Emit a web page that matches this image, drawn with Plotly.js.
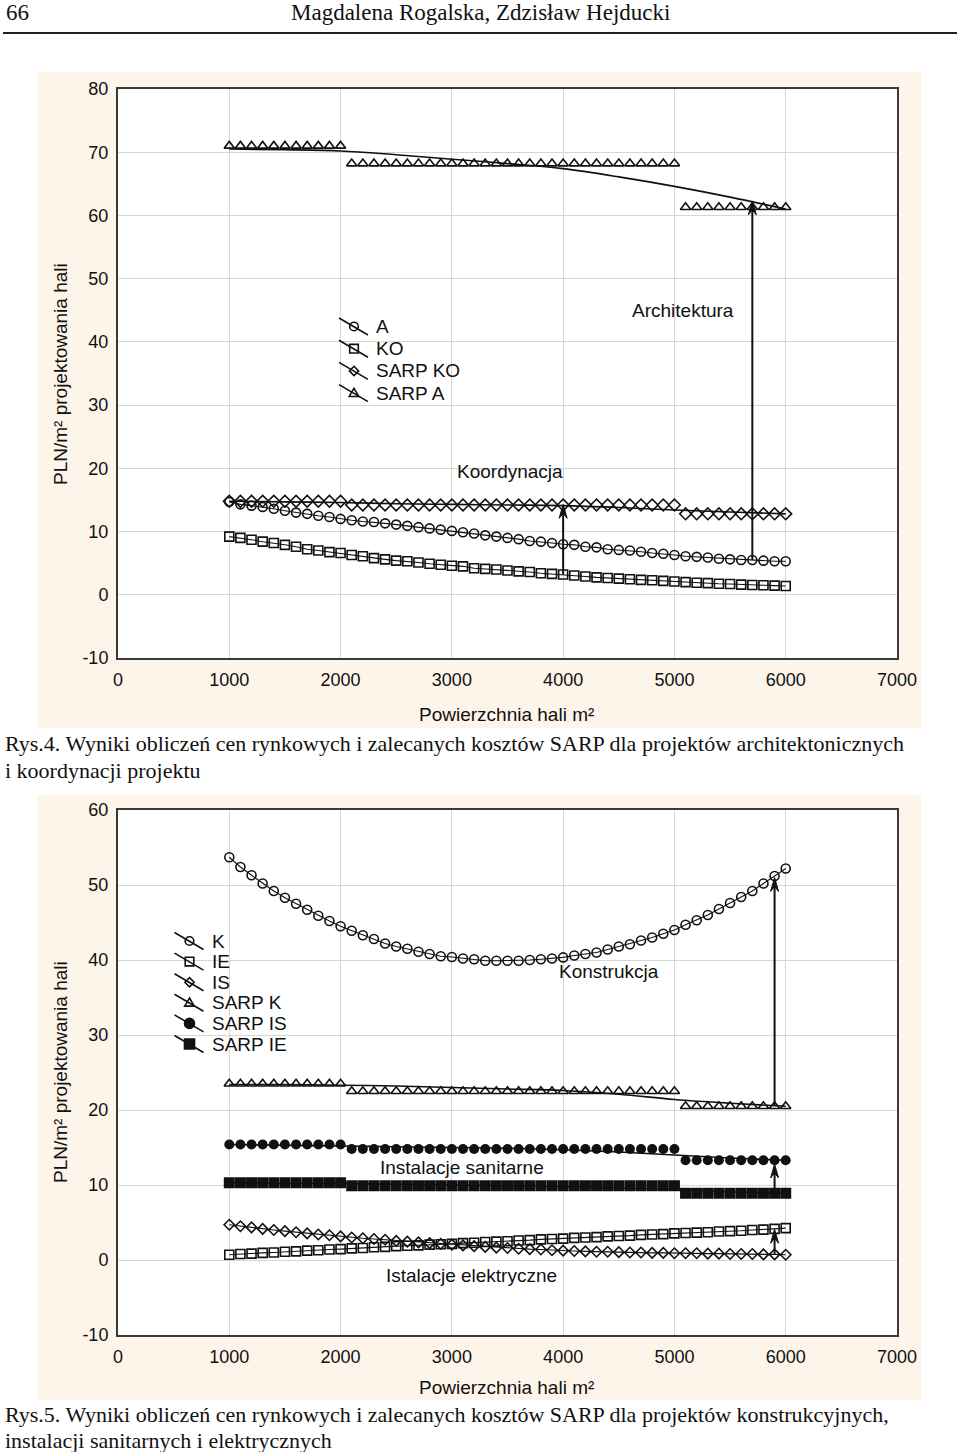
<!DOCTYPE html>
<html>
<head>
<meta charset="utf-8">
<script src="https://cdn.plot.ly/plotly-3.0.1.min.js"></script>
<style>html,body{margin:0;padding:0;background:#fff;}#chart{width:960px;height:1452px;}</style>
</head>
<body>
<div id="chart"></div>
<script>
// ---------- DATA ----------
const xVals = [1000,1100,1200,1300,1400,1500,1600,1700,1800,1900,2000,2100,2200,2300,2400,2500,2600,2700,2800,2900,3000,3100,3200,3300,3400,3500,3600,3700,3800,3900,4000,4100,4200,4300,4400,4500,4600,4700,4800,4900,5000,5100,5200,5300,5400,5500,5600,5700,5800,5900,6000];
const fitX = [1000,1500,2000,2500,3000,3500,4000,4500,5000,5500,6000];

// Rys.4
const topA = [14.7,14.3,14.1,13.9,13.6,13.3,13.0,12.8,12.5,12.3, 12.0,11.8,11.6,11.5,11.3,11.1,10.9,10.7,10.5,10.3, 10.1,9.9,9.7,9.4,9.2,9.0,8.8,8.5,8.4,8.2, 8.0,7.9,7.6,7.5,7.2,7.1,7.0,6.8,6.6,6.5, 6.3,6.1,6.0,5.9,5.7,5.6,5.5,5.5,5.4,5.3, 5.3];
const topKO = [9.2,9.0,8.7,8.4,8.2,7.9,7.6,7.2,7.0,6.75, 6.6,6.3,6.1,5.8,5.6,5.4,5.3,5.1,4.9,4.75, 4.6,4.5,4.2,4.1,4.0,3.85,3.7,3.6,3.4,3.3, 3.2,3.05,2.9,2.75,2.65,2.55,2.45,2.35,2.3,2.2, 2.1,2.0,1.9,1.85,1.75,1.7,1.6,1.55,1.5,1.45, 1.4];
const topSarpKO = [14.8,14.8,14.8,14.8,14.8,14.8,14.8,14.8,14.8,14.8,14.8,
  14.2,14.2,14.2,14.2,14.2,14.2,14.2,14.2,14.2,14.2,14.2,14.2,14.2,14.2,14.2,14.2,14.2,14.2,14.2,14.2,14.2,14.2,14.2,14.2,14.2,14.2,14.2,14.2,14.2,14.2,
  12.8,12.8,12.8,12.8,12.8,12.8,12.8,12.8,12.8,12.8];
const topSarpA = [71.0,71.0,71.0,71.0,71.0,71.0,71.0,71.0,71.0,71.0,71.0,
  68.2,68.2,68.2,68.2,68.2,68.2,68.2,68.2,68.2,68.2,68.2,68.2,68.2,68.2,68.2,68.2,68.2,68.2,68.2,68.2,68.2,68.2,68.2,68.2,68.2,68.2,68.2,68.2,68.2,68.2,
  61.3,61.3,61.3,61.3,61.3,61.3,61.3,61.3,61.3,61.3];
const topSarpAFit = [70.5,70.4,70.2,69.6,68.9,68.2,67.4,66.1,64.6,62.9,61.0];
const topSarpKOFit = [14.8,14.7,14.6,14.4,14.3,14.2,14.1,13.8,13.4,13.1,12.8];

// Rys.5
const botK = [53.7,52.4,51.3,50.2,49.2,48.3,47.5,46.7,45.9,45.2, 44.5,43.9,43.3,42.8,42.2,41.8,41.5,41.1,40.8,40.5, 40.4,40.2,40.1,39.9,39.9,39.9,39.9,40.0,40.1,40.2, 40.35,40.6,40.8,41.0,41.4,41.8,42.1,42.6,43.0,43.5, 44.0,44.7,45.3,46.0,46.8,47.6,48.4,49.2,50.2,51.2, 52.2];
const botIE = [0.7,0.8,0.85,0.95,1.0,1.1,1.15,1.25,1.3,1.4, 1.45,1.55,1.6,1.7,1.75,1.85,1.9,1.95,2.05,2.1, 2.15,2.25,2.3,2.4,2.45,2.5,2.6,2.65,2.75,2.8, 2.85,2.95,3.0,3.05,3.15,3.2,3.25,3.35,3.4,3.45, 3.55,3.6,3.65,3.7,3.8,3.85,3.9,4.0,4.05,4.15, 4.25];
const botIS = [4.7,4.5,4.35,4.15,4.0,3.85,3.7,3.55,3.4,3.3, 3.15,3.0,2.9,2.8,2.7,2.55,2.45,2.35,2.25,2.15, 2.05,1.95,1.85,1.75,1.65,1.6,1.5,1.45,1.4,1.3, 1.25,1.2,1.15,1.1,1.1,1.05,1.0,1.0,0.95,0.95, 0.9,0.9,0.9,0.85,0.85,0.8,0.8,0.8,0.75,0.75, 0.7];
const botSarpK = [23.5,23.5,23.5,23.5,23.5,23.5,23.5,23.5,23.5,23.5,23.5,
  22.5,22.5,22.5,22.5,22.5,22.5,22.5,22.5,22.5,22.5,22.5,22.5,22.5,22.5,22.5,22.5,22.5,22.5,22.5,22.5,22.5,22.5,22.5,22.5,22.5,22.5,22.5,22.5,22.5,22.5,
  20.5,20.5,20.5,20.5,20.5,20.5,20.5,20.5,20.5,20.5];
const botSarpIS = [15.4,15.4,15.4,15.4,15.4,15.4,15.4,15.4,15.4,15.4,15.4,
  14.8,14.8,14.8,14.8,14.8,14.8,14.8,14.8,14.8,14.8,14.8,14.8,14.8,14.8,14.8,14.8,14.8,14.8,14.8,14.8,14.8,14.8,14.8,14.8,14.8,14.8,14.8,14.8,14.8,14.8,
  13.3,13.3,13.3,13.3,13.3,13.3,13.3,13.3,13.3,13.3];
const botSarpIE = [10.3,10.3,10.3,10.3,10.3,10.3,10.3,10.3,10.3,10.3,10.3,
  9.9,9.9,9.9,9.9,9.9,9.9,9.9,9.9,9.9,9.9,9.9,9.9,9.9,9.9,9.9,9.9,9.9,9.9,9.9,9.9,9.9,9.9,9.9,9.9,9.9,9.9,9.9,9.9,9.9,9.9,
  8.9,8.9,8.9,8.9,8.9,8.9,8.9,8.9,8.9,8.9];
const botSarpKFit = [23.4,23.4,23.3,23.2,23.0,22.8,22.6,22.1,21.4,20.9,20.5];
const botSarpISFit = [15.4,15.3,15.2,15.1,15.0,14.9,14.7,14.4,14.0,13.6,13.3];
const botSarpIEFit = [10.3,10.2,10.2,10.1,10.0,9.9,9.8,9.6,9.4,9.1,8.9];

// arrows: [x, from, to]
const arrowsTop = [[5700, 5.5, 62.3], [4000, 3.2, 14.3]];
const arrowsBot = [[5900, 20.6, 51.0], [5900, 8.9, 12.8], [5900, 0.75, 4.1]];

// labels
const labelsTop = [["Architektura", 5080, 44.9], ["Koordynacja", 3520, 19.5]];
const labelsBot = [["Konstrukcja", 4410, 38.5], ["Instalacje sanitarne", 3090, 12.3], ["Istalacje elektryczne", 3180, -2.0]];

// legends
const legendTopNames = ["A", "KO", "SARP KO", "SARP A"];
const legendTopSymbols = ["circle-open", "square-open", "diamond-open", "triangle-open"];
const legendBotNames = ["K", "IE", "IS", "SARP K", "SARP IS", "SARP IE"];
const legendBotSymbols = ["circle-open", "square-open", "diamond-open", "triangle-open", "circle", "square"];

const xTicks = [0,1000,2000,3000,4000,5000,6000,7000];
const yTicksTop = [-10,0,10,20,30,40,50,60,70,80];
const yTicksBot = [-10,0,10,20,30,40,50,60];

// ---------- HELPERS ----------
const W = 960, H = 1452;
const px = v => v / W;
const py = v => 1 - v / H;
const SANS = 'Liberation Sans, Arial, sans-serif';
const SERIF = 'Liberation Serif, Times New Roman, serif';
const INK = '#111';

function openMk(sym, size) { return {symbol: sym, size: size, color: INK, line: {color: INK, width: 1.6}}; }
function fillMk(sym, size) { return {symbol: sym, size: size, color: INK, line: {color: INK, width: 0}}; }

const traces = [];
function connected(name, x, y, mk, ax) {
  traces.push({name: name, x: x, y: y, mode: 'lines+markers', marker: mk, line: {color: INK, width: 1.1}, showlegend: false, xaxis: ax[0], yaxis: ax[1], hoverinfo: 'skip'});
}
function fitLine(name, x, y, ax) {
  traces.push({name: name, x: x, y: y, mode: 'lines', line: {color: INK, width: 1.6, shape: 'spline', smoothing: 1}, showlegend: false, xaxis: ax[0], yaxis: ax[1], hoverinfo: 'skip'});
}
function pts(name, x, y, mk, ax) {
  traces.push({name: name, x: x, y: y, mode: 'markers', marker: mk, showlegend: false, xaxis: ax[0], yaxis: ax[1], hoverinfo: 'skip'});
}

const A1 = ['x', 'y'], A2 = ['x2', 'y2'];
// top chart
fitLine('SARP A fit', fitX, topSarpAFit, A1);
fitLine('SARP KO fit', fitX, topSarpKOFit, A1);
connected('A', xVals, topA, openMk('circle-open', 9), A1);
connected('KO', xVals, topKO, openMk('square-open', 9), A1);
pts('SARP KO', xVals, topSarpKO, openMk('diamond-open', 9), A1);
pts('SARP A', xVals, topSarpA, openMk('triangle-up-open', 9), A1);
// bottom chart
fitLine('SARP K fit', fitX, botSarpKFit, A2);
fitLine('SARP IS fit', fitX, botSarpISFit, A2);
fitLine('SARP IE fit', fitX, botSarpIEFit, A2);
connected('K', xVals, botK, openMk('circle-open', 9), A2);
connected('IE', xVals, botIE, openMk('square-open', 9), A2);
connected('IS', xVals, botIS, openMk('diamond-open', 8), A2);
pts('SARP K', xVals, botSarpK, openMk('triangle-up-open', 9), A2);
pts('SARP IS', xVals, botSarpIS, fillMk('circle', 10), A2);
pts('SARP IE', xVals, botSarpIE, fillMk('square', 11), A2);

// ---------- LAYOUT ----------
function xAxis(anchor) {
  return {domain: [px(118), px(897)], anchor: anchor, range: [0, 7000], tickvals: xTicks, ticktext: xTicks.map(String),
    showgrid: true, gridcolor: '#d6d6d6', gridwidth: 1, zeroline: false, showline: true, mirror: true,
    linecolor: '#3a3a3a', linewidth: 2, ticks: '', ticklabelstandoff: 4,
    tickfont: {family: SANS, size: 18, color: INK}, fixedrange: true};
}
function yAxis(dom, anchor, rng, tv) {
  return {domain: dom, anchor: anchor, range: rng, tickvals: tv, ticktext: tv.map(String),
    showgrid: true, gridcolor: '#d6d6d6', gridwidth: 1, zeroline: false, showline: true, mirror: true,
    linecolor: '#3a3a3a', linewidth: 2, ticks: '', ticklabelstandoff: 4,
    tickfont: {family: SANS, size: 18, color: INK}, fixedrange: true};
}

const annotations = [];
const shapes = [];
function pageText(t, x, y, opts) {
  annotations.push(Object.assign({text: t, xref: 'paper', yref: 'paper', x: px(x), y: py(y), showarrow: false,
    xanchor: 'left', yanchor: 'middle', font: {family: SERIF, size: 22, color: INK}}, opts || {}));
}
pageText('66', 4, 13, {font: {family: SERIF, size: 23, color: INK}});
pageText('Magdalena Rogalska, Zdzisław Hejducki', 480, 13, {xanchor: 'center', font: {family: SERIF, size: 23, color: INK}});
pageText('Rys.4. Wyniki obliczeń cen rynkowych i zalecanych kosztów SARP dla projektów architektonicznych', 3, 744);
pageText('i koordynacji projektu', 3, 770);
pageText('Rys.5. Wyniki obliczeń cen rynkowych i zalecanych kosztów SARP dla projektów konstrukcyjnych,', 3, 1414);
pageText('instalacji sanitarnych i elektrycznych', 3, 1440);

const axFont = {family: SANS, size: 19, color: INK};
pageText('Powierzchnia hali m²', 507, 714, {xanchor: 'center', font: axFont});
pageText('Powierzchnia hali m²', 507, 1387, {xanchor: 'center', font: axFont});
pageText('PLN/m² projektowania hali', 60, 374, {xanchor: 'center', textangle: -90, font: axFont});
pageText('PLN/m² projektowania hali', 60, 1072, {xanchor: 'center', textangle: -90, font: axFont});

// arrows drawn as shapes (shaft + notched head), sized in pixels
function addArrows(list, xr, yr, unitsPerPxX, unitsPerPxY) {
  const hw = 4 * unitsPerPxX, hl = 14 * unitsPerPxY, notch = 9 * unitsPerPxY;
  list.forEach(a => {
    const x = a[0], y0 = a[1], y1 = a[2];
    shapes.push({type: 'line', xref: xr, yref: yr, x0: x, x1: x, y0: y0, y1: y1 - notch, line: {color: INK, width: 2}});
    shapes.push({type: 'path', xref: xr, yref: yr,
      path: `M ${x} ${y1} L ${x - hw} ${y1 - hl} L ${x} ${y1 - notch} L ${x + hw} ${y1 - hl} Z`,
      fillcolor: INK, line: {color: INK, width: 1}});
  });
}
addArrows(arrowsTop, 'x', 'y', 7000 / 779, 90 / 569);
addArrows(arrowsBot, 'x2', 'y2', 7000 / 779, 70 / 525);

function addLabels(list, xr, yr) {
  list.forEach(l => annotations.push({text: l[0], x: l[1], y: l[2], xref: xr, yref: yr, showarrow: false,
    xanchor: 'center', yanchor: 'middle', font: {family: SANS, size: 19, color: INK}}));
}
addLabels(labelsTop, 'x', 'y');
addLabels(labelsBot, 'x2', 'y2');

// custom legend with diagonal line + symbol (drawn in page pixels)
function symbolShape(sym, cx, cy) {
  const open = sym.endsWith('-open');
  const fill = open ? 'rgba(0,0,0,0)' : INK;
  const ln = {color: INK, width: 1.6};
  if (sym.startsWith('circle')) {
    const r = open ? 4.3 : 5;
    shapes.push({type: 'circle', xref: 'paper', yref: 'paper', x0: px(cx - r), x1: px(cx + r), y0: py(cy + r), y1: py(cy - r), fillcolor: fill, line: ln});
  } else if (sym.startsWith('square')) {
    const r = open ? 4.3 : 5;
    shapes.push({type: 'rect', xref: 'paper', yref: 'paper', x0: px(cx - r), x1: px(cx + r), y0: py(cy + r), y1: py(cy - r), fillcolor: fill, line: ln});
  } else if (sym.startsWith('diamond')) {
    const r = 4.6;
    shapes.push({type: 'path', xref: 'paper', yref: 'paper', path: `M ${px(cx)} ${py(cy - r)} L ${px(cx + r)} ${py(cy)} L ${px(cx)} ${py(cy + r)} L ${px(cx - r)} ${py(cy)} Z`, fillcolor: fill, line: ln});
  } else {
    const r = 4.8;
    shapes.push({type: 'path', xref: 'paper', yref: 'paper', path: `M ${px(cx)} ${py(cy - r)} L ${px(cx + r)} ${py(cy + r * 0.7)} L ${px(cx - r)} ${py(cy + r * 0.7)} Z`, fillcolor: fill, line: ln});
  }
}
function addLegend(names, syms, cx, textX, y0, dy) {
  names.forEach((n, i) => {
    const cy = y0 + i * dy;
    shapes.push({type: 'line', xref: 'paper', yref: 'paper', x0: px(cx - 15), x1: px(cx + 14), y0: py(cy - 8.5), y1: py(cy + 8.5), line: {color: INK, width: 1.6}});
    symbolShape(syms[i], cx, cy);
    annotations.push({text: n, xref: 'paper', yref: 'paper', x: px(textX), y: py(cy), xanchor: 'left', yanchor: 'middle', showarrow: false,
      font: {family: SANS, size: 19, color: INK}});
  });
}
addLegend(legendTopNames, legendTopSymbols, 354, 374, 326.5, 22.2);
addLegend(legendBotNames, legendBotSymbols, 189.5, 210, 941, 20.6);

const PANEL = '#fdf5ea';
shapes.unshift(
  {type: 'line', xref: 'paper', yref: 'paper', x0: px(3), x1: px(957), y0: py(33), y1: py(33), line: {color: '#222', width: 2}},
  {type: 'rect', xref: 'paper', yref: 'paper', x0: px(38), x1: px(921), y0: py(72), y1: py(728), fillcolor: PANEL, line: {width: 0}, layer: 'below'},
  {type: 'rect', xref: 'paper', yref: 'paper', x0: px(38), x1: px(921), y0: py(795), y1: py(1400), fillcolor: PANEL, line: {width: 0}, layer: 'below'},
  {type: 'rect', xref: 'paper', yref: 'paper', x0: px(118), x1: px(897), y0: py(89), y1: py(658), fillcolor: '#ffffff', line: {width: 0}, layer: 'below'},
  {type: 'rect', xref: 'paper', yref: 'paper', x0: px(118), x1: px(897), y0: py(810), y1: py(1335), fillcolor: '#ffffff', line: {width: 0}, layer: 'below'}
);

const layout = {
  width: W, height: H, margin: {l: 0, r: 0, t: 0, b: 0}, paper_bgcolor: '#ffffff', plot_bgcolor: 'rgba(0,0,0,0)',
  xaxis: xAxis('y'),
  yaxis: yAxis([py(658), py(89)], 'x', [-10, 80], yTicksTop),
  xaxis2: xAxis('y2'),
  yaxis2: yAxis([py(1335), py(810)], 'x2', [-10, 60], yTicksBot),
  annotations: annotations, shapes: shapes, showlegend: false, hovermode: false
};

Plotly.newPlot('chart', traces, layout, {staticPlot: true, displayModeBar: false});
</script>
</body>
</html>
